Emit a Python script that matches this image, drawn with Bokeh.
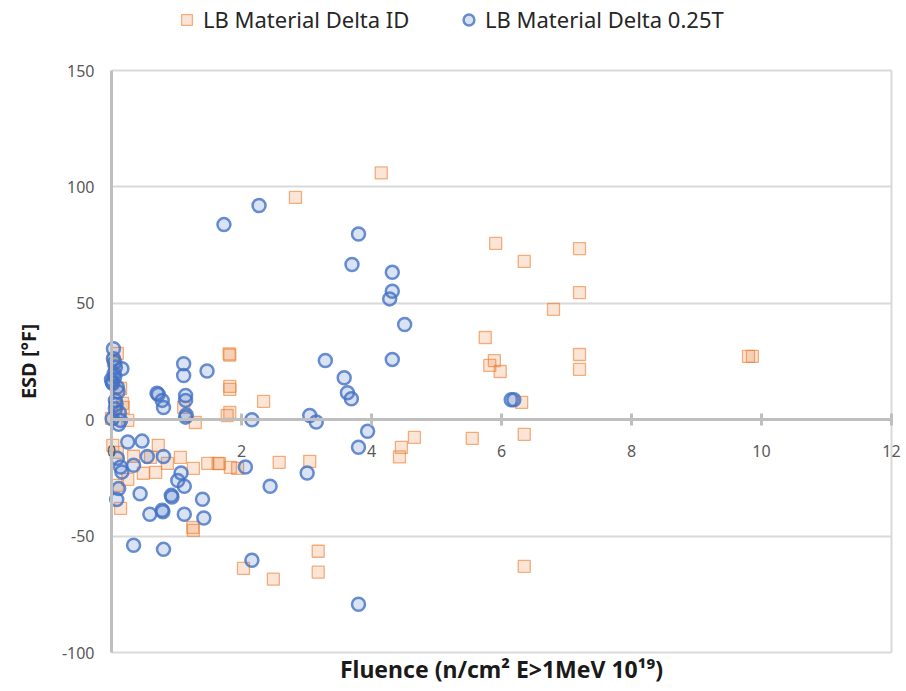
from bokeh.plotting import figure
from bokeh.models import (LinearAxis, FixedTicker, Legend, LegendItem, Range1d, Grid)
from bokeh.embed import file_html
from bokeh.resources import INLINE

# Series "LB Material Delta ID" (squares)
id_x = [4.15, 2.83, 5.91, 7.20, 6.35, 7.20, 6.80, 5.75, 7.20, 9.80, 9.86, 5.89, 5.82, 5.98, 7.20, 6.31,
        1.81, 1.82, 1.82, 1.82, 2.34, 1.82, 1.78, 1.29, 4.46, 4.66, 4.43, 5.55, 6.35, 6.35, 2.03, 2.49,
        3.18, 3.18, 2.58, 3.05, 0.72, 0.34, 0.60, 1.06, 1.26, 1.48, 1.64, 1.66, 1.83, 1.94, 0.49, 0.68,
        0.86, 0.09, 0.03, 0.14, 0.18, 0.17, 0.00, 0.25, 1.11, 0.02, 0.09, 0.09, 0.25, 0.14, 1.25, 1.26]
id_y = [106.0, 95.5, 75.7, 73.5, 68.0, 54.6, 47.4, 35.3, 28.0, 27.2, 27.2, 25.4, 23.3, 20.7, 21.6, 7.4,
        28.3, 27.8, 14.3, 13.0, 7.9, 3.1, 1.8, -1.2, -11.9, -7.6, -16.0, -8.0, -6.3, -63.0, -63.9, -68.5,
        -56.5, -65.5, -18.3, -17.9, -11.0, -15.7, -16.2, -16.2, -20.9, -18.8, -18.8, -18.9, -20.5, -20.9, -23.0, -22.6,
        -18.8, 28.5, 25.4, 13.4, 5.3, 7.0, 0.6, -0.3, 5.3, -11.0, -14.0, -28.2, -25.6, -38.1, -46.3, -47.5]

# Series "LB Material Delta 0.25T" (circles)
t_x = [2.27, 1.73, 3.80, 3.70, 4.32, 4.32, 4.28, 4.51, 3.29, 4.32, 3.58, 3.63, 3.69, 1.47, 2.16, 3.05,
       3.15, 3.94, 3.80, 6.19, 6.15, 2.06, 2.44, 3.01, 1.40, 1.42, 2.16, 3.80,
       0.25, 0.47, 0.55, 0.80, 0.09, 0.14, 0.16, 0.34, 0.11, 0.08, 0.44, 1.07, 1.02, 1.12, 0.93, 0.92,
       0.78, 0.79, 0.59, 1.12, 0.34, 0.80,
       0.03, 0.03, 0.05, 0.16, 0.04, 0.01, 0.00, 0.09, 0.06, 0.06, 0.01, 0.14, 0.11, 0.02, 0.05, 0.06,
       0.10, 0.07, 0.12,
       1.11, 1.11, 0.70, 0.72, 0.78, 0.80, 1.14, 1.14, 1.14, 1.15]
t_y = [92.0, 83.8, 79.8, 66.7, 63.3, 55.2, 51.9, 40.9, 25.4, 25.9, 18.0, 11.6, 9.0, 20.9, 0.0, 1.8,
       -1.0, -5.0, -11.8, 8.6, 8.6, -20.3, -28.6, -22.9, -34.2, -42.2, -60.4, -79.3,
       -9.6, -9.2, -15.8, -15.8, -16.6, -20.3, -22.5, -19.6, -29.6, -34.3, -31.8, -22.9, -26.1, -28.6, -33.2, -32.5,
       -38.9, -39.5, -40.6, -40.6, -53.9, -55.7,
       30.5, 26.2, 24.6, 21.9, 19.7, 16.1, 17.3, 14.0, 8.3, 4.7, 0.4, -0.3, -2.0, 15.5, 18.5, 22.5,
       12.0, 6.5, 3.0,
       24.0, 19.0, 11.4, 10.8, 8.3, 5.2, 10.4, 8.3, 1.1, 2.0]

x_ticks = [0, 2, 4, 6, 8, 10, 12]
y_ticks = [-100, -50, 0, 50, 100, 150]
y_grid = [-100, -50, 50, 100, 150]
x_min, x_max = 0, 12
y_min, y_max = -100, 150
label_a = "LB Material Delta ID"
label_b = "LB Material Delta 0.25T"
x_title = "Fluence (n/cm\u00b2 E>1MeV 10\u00b9\u2079)"
y_title = "ESD [\u00b0F]"

FONT = "Noto Sans"
W, H = 906, 691
# plot-area placement inside the canvas (pixels)
PL, PR, PT, PB = 111, 891, 70, 652
sx = (PR - PL) / (x_max - x_min)
sy = (PB - PT) / (y_max - y_min)
xr = Range1d(x_min - PL / sx, x_max + (W - PR) / sx)
yr = Range1d(y_min - (H - PB) / sy, y_max + PT / sy)

p = figure(width=W, height=H, x_range=xr, y_range=yr,
           output_backend="svg", toolbar_location=None,
           x_axis_location=None, y_axis_location=None, min_border=0)
p.grid.visible = False
p.outline_line_color = None
p.background_fill_color = "white"
p.border_fill_color = "white"

p.add_layout(Grid(dimension=1, ticker=FixedTicker(ticks=y_grid), cross_bounds=(x_min, x_max),
                  grid_line_color="#D9D9D9", grid_line_width=2))
p.add_layout(Grid(dimension=0, ticker=FixedTicker(ticks=[x_max]), cross_bounds=(y_min, y_max),
                  grid_line_color="#D9D9D9", grid_line_width=2))

yaxis = LinearAxis(ticker=FixedTicker(ticks=y_ticks), fixed_location=0, bounds=(y_min, y_max),
                   axis_label=y_title,
                   major_label_overrides={-100: "-100", -50: "-50"},
                   axis_line_color="#BFBFBF", axis_line_width=3,
                   major_tick_line_color=None, minor_tick_line_color=None,
                   major_tick_in=0, major_tick_out=0,
                   major_label_text_color="#595959", major_label_text_font=FONT,
                   major_label_text_font_size="16px", major_label_standoff=17,
                   axis_label_text_font=FONT, axis_label_text_font_style="bold",
                   axis_label_text_font_size="20px", axis_label_text_color="#1a1a1a",
                   axis_label_standoff=17)
p.add_layout(yaxis, "left")

xaxis = LinearAxis(ticker=FixedTicker(ticks=x_ticks), fixed_location=0, bounds=(x_min, x_max),
                   axis_line_color="#BFBFBF", axis_line_width=3,
                   major_tick_line_color="#BFBFBF", major_tick_line_width=3,
                   major_tick_in=6, major_tick_out=6, minor_tick_line_color=None,
                   major_label_text_color="#595959", major_label_text_font=FONT,
                   major_label_text_font_size="16px", major_label_standoff=19)
p.add_layout(xaxis, "below")

xtitle = LinearAxis(ticker=FixedTicker(ticks=[]), fixed_location=y_min, bounds=(x_min, x_max),
                    axis_label=x_title,
                    axis_line_color=None, major_tick_line_color=None, minor_tick_line_color=None,
                    major_tick_out=0, major_tick_in=0, major_label_standoff=0,
                    axis_label_text_font=FONT, axis_label_text_font_style="bold",
                    axis_label_text_font_size="23px", axis_label_text_color="#1a1a1a",
                    axis_label_standoff=0)
p.add_layout(xtitle, "below")

r1 = p.scatter(id_x, id_y, marker="square", size=12, fill_color="#ED7D31", fill_alpha=0.2,
               line_color="#ED7D31", line_alpha=0.6, line_width=1.3)
r2 = p.scatter(t_x, t_y, marker="circle", size=13, fill_color="#4472C4", fill_alpha=0.2,
               line_color="#4472C4", line_alpha=0.8, line_width=2.5)

for lab, ren, loc in [(label_a, r1, (173, 657)), (label_b, r2, (455, 657))]:
    lg = Legend(items=[LegendItem(label=lab, renderers=[ren])], location=loc,
                orientation="horizontal", glyph_width=27, glyph_height=27,
                label_height=26, label_standoff=3, padding=0, margin=0, spacing=0,
                border_line_color=None, background_fill_alpha=0,
                label_text_font=FONT, label_text_font_size="22px",
                label_text_color="#262626")
    p.add_layout(lg, "center")

open("out.html", "w").write(file_html(p, INLINE))
